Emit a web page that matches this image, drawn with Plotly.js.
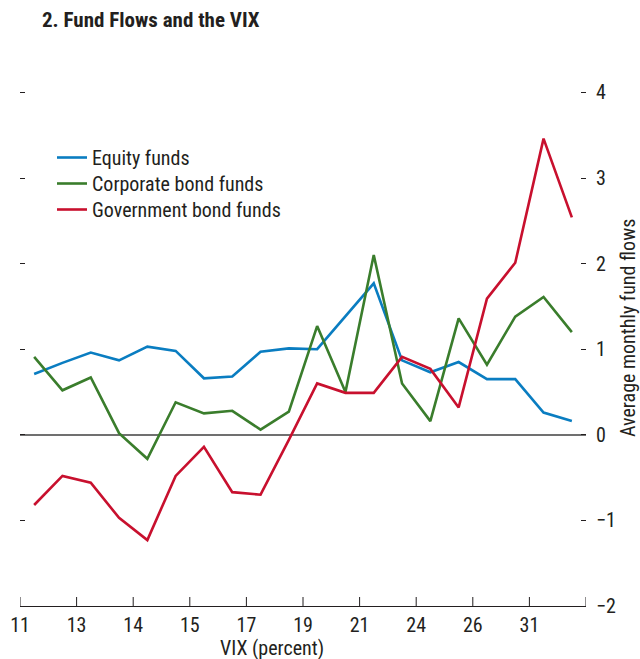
<!DOCTYPE html>
<html>
<head>
<meta charset="utf-8">
<script src="https://cdn.plot.ly/plotly-3.0.1.min.js"></script>
<style>
  html, body { margin: 0; padding: 0; background: #fff; }
  #chart { width: 640px; height: 659px; }
</style>
</head>
<body>
<div id="chart"></div>
<script>
// VIX bins (tick labels at bin boundaries, last boundary unlabeled)
const vixTickLabels = ["11", "13", "14", "15", "17", "19", "21", "24", "26", "31", ""];
const binCount = 20;
const yTickVals = [-2, -1, 0, 1, 2, 3, 4];

// Average monthly fund flows per VIX bin
const equityFunds = [0.71, 0.84, 0.96, 0.87, 1.03, 0.98, 0.66, 0.68, 0.97, 1.01,
                     1.00, 1.38, 1.77, 0.87, 0.73, 0.85, 0.65, 0.65, 0.26, 0.16];
const corporateBondFunds = [0.91, 0.52, 0.67, 0.02, -0.28, 0.38, 0.25, 0.28, 0.06, 0.27,
                            1.27, 0.50, 2.10, 0.60, 0.16, 1.36, 0.82, 1.38, 1.61, 1.20];
const governmentBondFunds = [-0.82, -0.48, -0.56, -0.97, -1.23, -0.48, -0.14, -0.67, -0.70, -0.06,
                             0.60, 0.49, 0.49, 0.91, 0.77, 0.32, 1.59, 2.01, 3.46, 2.54];

const seriesNames = ["Equity funds", "Corporate bond funds", "Government bond funds"];
const seriesColors = ["#0a7dc1", "#3a7d2c", "#c8102e"];
const legendIds = ["legend", "legend2", "legend3"];

const xPos = equityFunds.map((_, i) => i + 0.5);
const tickVals = vixTickLabels.map((_, i) => i * 2);

const FONT = '"Liberation Sans Narrow", "Arial Narrow", "Roboto Condensed", "Liberation Sans", Arial, sans-serif';
const TXT = "#231f20";
const AX = "#231f20";

// plot-area geometry (px)
const PL = 20, PT = 90, PW = 566, PH = 516;
const yTopPad = 0.028;
const XTICKLEN = 9;

const traces = [equityFunds, corporateBondFunds, governmentBondFunds].map((ys, k) => ({
  x: xPos,
  y: ys,
  type: "scatter",
  mode: "lines",
  name: seriesNames[k],
  legend: legendIds[k],
  line: { color: seriesColors[k], width: 2.6 },
  hoverinfo: "x+y"
}));

// invisible helper trace so the left tick-only axis is drawn
traces.push({ x: [xPos[0]], y: [0], yaxis: "y2", type: "scatter", mode: "lines",
  showlegend: false, hoverinfo: "skip", line: { width: 0 } });

function legendAt(centerY) {
  return {
    x: (52 - PL) / PW, xanchor: "left",
    y: (PT + PH - (centerY + 1 - 21)) / PH, yanchor: "top",
    bgcolor: "rgba(0,0,0,0)",
    font: { family: FONT, size: 20, color: TXT },
    tracegroupgap: 0
  };
}

const yCommon = {
  range: [-2, 4 + yTopPad],
  tickmode: "array",
  tickvals: yTickVals,
  showgrid: false,
  fixedrange: true
};

// upward tick marks on the x axis at every bin boundary (tick values in data units)
const xTickMarks = tickVals.map(v => ({
  type: "line", xref: "x", yref: "paper",
  x0: v, x1: v, y0: 0, y1: XTICKLEN / PH,
  line: { color: AX, width: 1 }
}));

const layout = {
  width: 640,
  height: 659,
  margin: { l: PL, r: 640 - PL - PW, t: PT, b: 659 - PT - PH },
  paper_bgcolor: "#fff",
  plot_bgcolor: "#fff",
  font: { family: FONT, size: 20, color: TXT },
  title: {
    text: "<b>2. Fund Flows and the VIX</b>",
    font: { family: FONT, size: 21, color: TXT },
    xref: "container", x: 42 / 640, xanchor: "left",
    yref: "container", y: 1 - 20 / 659, yanchor: "middle"
  },
  showlegend: true,
  legend: legendAt(158),
  legend2: legendAt(184),
  legend3: legendAt(210),
  xaxis: {
    range: [0, binCount],
    tickmode: "array",
    tickvals: tickVals,
    ticktext: vixTickLabels,
    ticks: "",
    showgrid: false,
    zeroline: false,
    showline: true,
    linecolor: AX,
    linewidth: 1,
    ticklabelstandoff: 1,
    tickfont: { family: FONT, size: 20, color: TXT },
    fixedrange: true
  },
  yaxis: Object.assign({}, yCommon, {
    side: "right",
    ticks: "inside",
    ticklen: 5,
    tickwidth: 1,
    tickcolor: AX,
    showline: false,
    zeroline: true,
    zerolinecolor: "#707070",
    zerolinewidth: 1.5,
    ticklabelstandoff: 9,
    tickfont: { family: FONT, size: 20, color: TXT }
  }),
  yaxis2: Object.assign({}, yCommon, {
    overlaying: "y",
    anchor: "x",
    side: "left",
    ticks: "inside",
    ticklen: 5,
    tickwidth: 1,
    tickcolor: AX,
    showline: false,
    zeroline: false,
    showticklabels: false
  }),
  shapes: xTickMarks,
  annotations: [
    {
      text: "VIX (percent)",
      xref: "paper", yref: "paper",
      x: (272 - PL) / PW, y: (PT + PH - 648) / PH,
      xanchor: "center", yanchor: "middle",
      showarrow: false,
      font: { family: FONT, size: 20, color: TXT }
    },
    {
      text: "Average monthly fund flows",
      xref: "paper", yref: "paper",
      x: (628 - PL) / PW, y: (PT + PH - 328) / PH,
      xanchor: "center", yanchor: "middle",
      textangle: -90,
      showarrow: false,
      font: { family: FONT, size: 20, color: TXT }
    }
  ]
};

Plotly.newPlot("chart", traces, layout, { displayModeBar: false, staticPlot: true });
</script>
</body>
</html>
